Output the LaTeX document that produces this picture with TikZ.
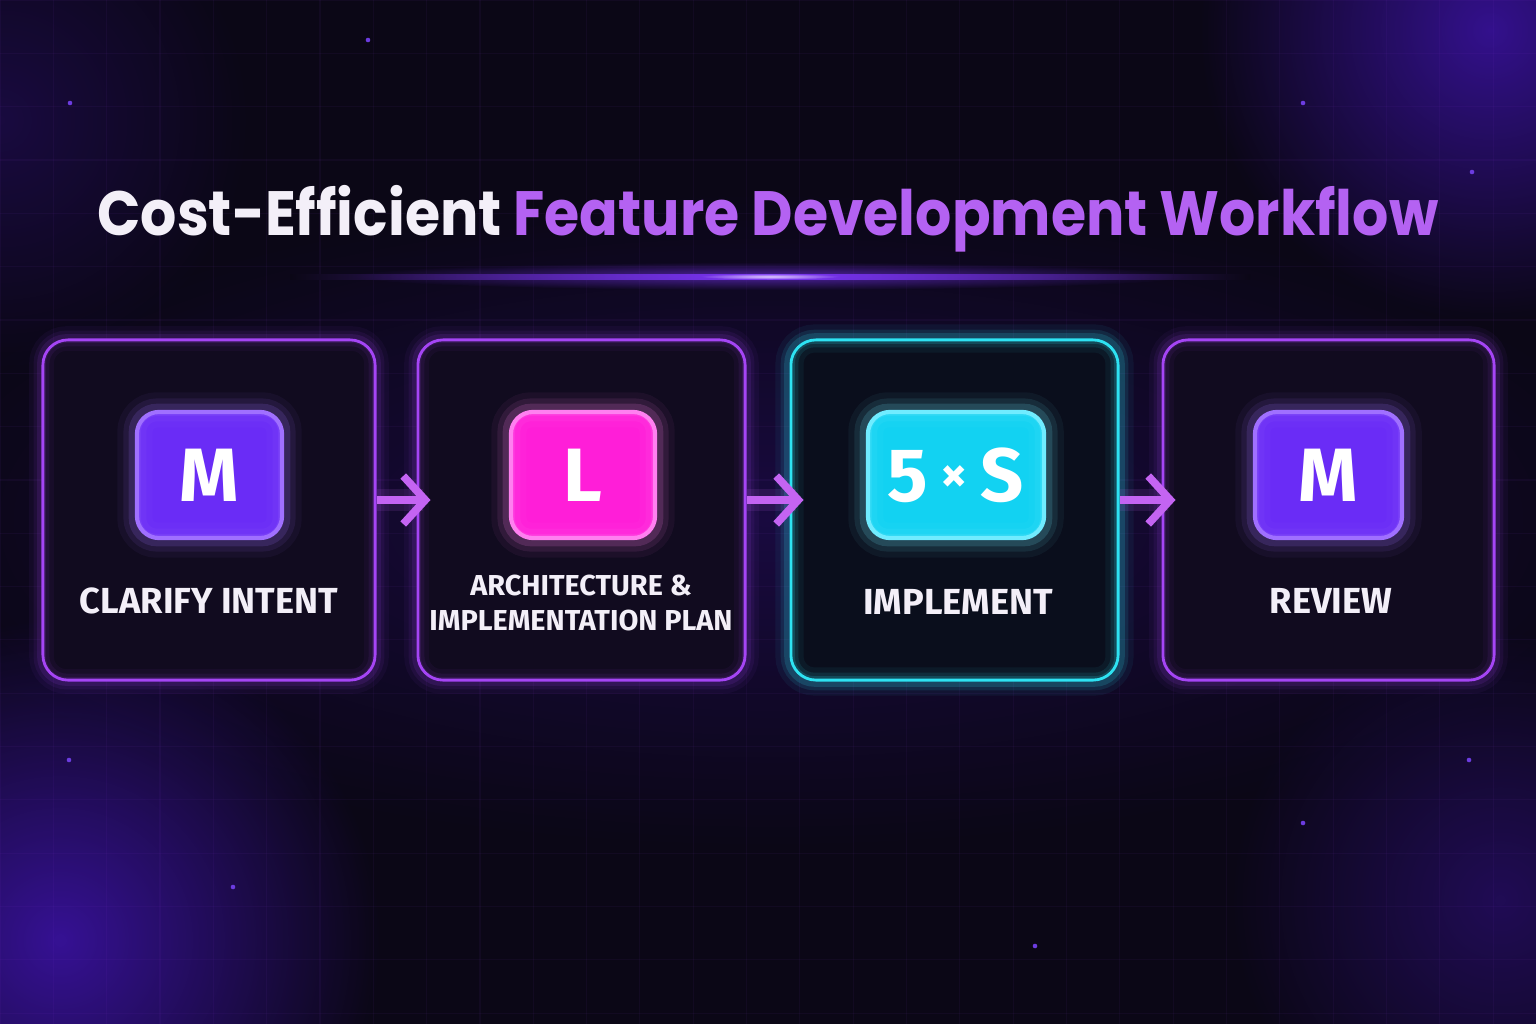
\documentclass[tikz,border=0pt]{standalone}
\usepackage{fontspec}
\setmainfont{Fira Sans}
\newfontfamily\titlefont{Poppins}
\usetikzlibrary{arrows.meta,fadings,calc}
\definecolor{bg}{HTML}{0B0716}
\definecolor{glowpurple}{HTML}{4A16D0}
\definecolor{boxpurple}{HTML}{A545F5}
\definecolor{boxcyan}{HTML}{2EE2F2}
\definecolor{boxfill}{HTML}{110B1F}
\definecolor{boxfillc}{HTML}{0A0E1C}
\definecolor{bviolet}{HTML}{6A2CF6}
\definecolor{bvioletedge}{HTML}{A070FF}
\definecolor{bmagenta}{HTML}{FF1ED8}
\definecolor{bmagentaedge}{HTML}{FF80F0}
\definecolor{bcyan}{HTML}{12D2F2}
\definecolor{bcyanedge}{HTML}{70ECFF}
\definecolor{txt}{HTML}{F3EFF8}
\definecolor{titlepurple}{HTML}{B462F2}
\definecolor{arrowc}{HTML}{C464F2}
\definecolor{linepurple}{HTML}{7A34F4}
\definecolor{dotc}{HTML}{6C3CE0}
\tikzfading[name=glowfade, inner color=transparent!25, outer color=transparent!100]
\tikzset{
  box/.style={draw=boxpurple, line width=0.8pt, fill=boxfill, rounded corners=0.25cm,
    minimum height=3.40cm, inner sep=0pt},
  badge/.style={rounded corners=0.22cm, line width=1.2pt, minimum height=1.26cm,
    inner sep=0pt, text=white, font=\fontsize{21.5pt}{21.5pt}\selectfont\bfseries},
  lbl/.style={text=txt, font=\fontsize{10.3pt}{12pt}\selectfont\bfseries, align=center},
  lblsmall/.style={text=txt, font=\fontsize{8.2pt}{9.7pt}\selectfont\bfseries, align=center},
  arr/.style={draw=arrowc, line width=2.2pt, -{Straight Barb[length=2.2mm,width=4.8mm]}},
  dot/.style={fill=dotc},
}
\begin{document}
\begin{tikzpicture}[x=0.01cm,y=-0.01cm]
\fill[bg] (0,0) rectangle (1536,1024);
\useasboundingbox (0,0) rectangle (1536,1024);
\begin{scope}
\clip (0,0) rectangle (1536,1024);
% background glows
\fill[glowpurple, path fading=glowfade, opacity=0.9] (60,940) circle[radius=320];
\fill[glowpurple, path fading=glowfade, opacity=0.85] (1490,30) circle[radius=290];
\fill[glowpurple, path fading=glowfade, opacity=0.45] (1500,900) circle[radius=270];
\fill[glowpurple, path fading=glowfade, opacity=0.3] (0,120) circle[radius=250];
\fill[glowpurple, path fading=glowfade, opacity=0.3] (768,520) ellipse[x radius=900, y radius=330];
% faint grid
\foreach \i in {0,...,29} {\draw[boxpurple, opacity=0.05, line width=0.3pt] (\i*53.33,0) -- (\i*53.33,1024);}
\foreach \j in {0,...,20} {\draw[boxpurple, opacity=0.05, line width=0.3pt] (0,\j*53.33) -- (1536,\j*53.33);}
\end{scope}
% dots
\foreach \p in {(368,40),(70,103),(1303,103),(1472,172),(69,760),(1469,760),(1303,823),(233,887),(1035,946)}
  {\fill[dot] \p circle[radius=2.3];}
% title
\node[anchor=base, font=\titlefont\fontsize{17.8pt}{20pt}\selectfont\bfseries] (title) at (768,235)
  {\scalebox{0.91}[1]{\textcolor{txt}{Cost-Efficient} \textcolor{titlepurple}{Feature Development Workflow}}};
% underline
\shade[left color=bg, right color=bg, middle color=linepurple] (290,274) rectangle (1250,279);
\fill[linepurple, path fading=glowfade, opacity=0.8] (770,276) ellipse[x radius=420, y radius=14];
\fill[white, path fading=glowfade] (770,276.5) ellipse[x radius=70, y radius=3];
% boxes
\node[box, minimum width=3.32cm] (b1) at (209,510) {};
\node[box, minimum width=3.27cm] (b2) at (581.5,510) {};
\node[box, minimum width=3.27cm, draw=boxcyan, fill=boxfillc] (b3) at (954.5,510) {};
\node[box, minimum width=3.31cm] (b4) at (1328.5,510) {};
\foreach \n in {b1,b2,b4} {
  \foreach \w/\o in {7/0.05,4.5/0.08,2.5/0.12} {
    \draw[boxpurple, line width=\w pt, opacity=\o, rounded corners=0.25cm] (\n.south west) rectangle (\n.north east);}}
\foreach \w/\o in {8/0.06,5/0.1,3/0.16} {
  \draw[boxcyan, line width=\w pt, opacity=\o, rounded corners=0.25cm] (b3.south west) rectangle (b3.north east);}
% badges
\node[badge, minimum width=1.45cm, fill=bviolet, draw=bvioletedge] (m1) at (209.5,475) {M};
\node[badge, minimum width=1.44cm, fill=bmagenta, draw=bmagentaedge] (m2) at (583,475) {L};
\node[badge, minimum width=1.76cm, fill=bcyan, draw=bcyanedge] (m3) at (956,475) {5\,{\fontsize{15pt}{15pt}\selectfont\raisebox{2.5pt}{×}}\,S};
\node[badge, minimum width=1.47cm, fill=bviolet, draw=bvioletedge] (m4) at (1328.5,475) {M};
\foreach \n/\c in {m1/bvioletedge,m2/bmagentaedge,m3/bcyanedge,m4/bvioletedge} {
  \foreach \w/\o in {10/0.05,6.5/0.09,3.5/0.16} {
    \draw[\c, line width=\w pt, opacity=\o, rounded corners=0.22cm] (\n.south west) rectangle (\n.north east);}}
% labels
\node[lbl] (l1) at (209,601) {CLARIFY INTENT};
\node[lblsmall] (l2) at (581,603) {ARCHITECTURE \&\\IMPLEMENTATION PLAN};
\node[lbl] (l3) at (958,602) {IMPLEMENT};
\node[lbl] (l4) at (1331,601) {REVIEW};
% arrows
\foreach \a/\b in {b1/b2,b2/b3,b3/b4} {
  \draw[arrowc, line width=6pt, opacity=0.12] ($(\a.east)+(0,-10)$) -- ($(\b.west)+(6,-10)$);
  \draw[arr] ($(\a.east)+(0,-10)$) -- ($(\b.west)+(14,-10)$);
}
\end{tikzpicture}
\end{document}
